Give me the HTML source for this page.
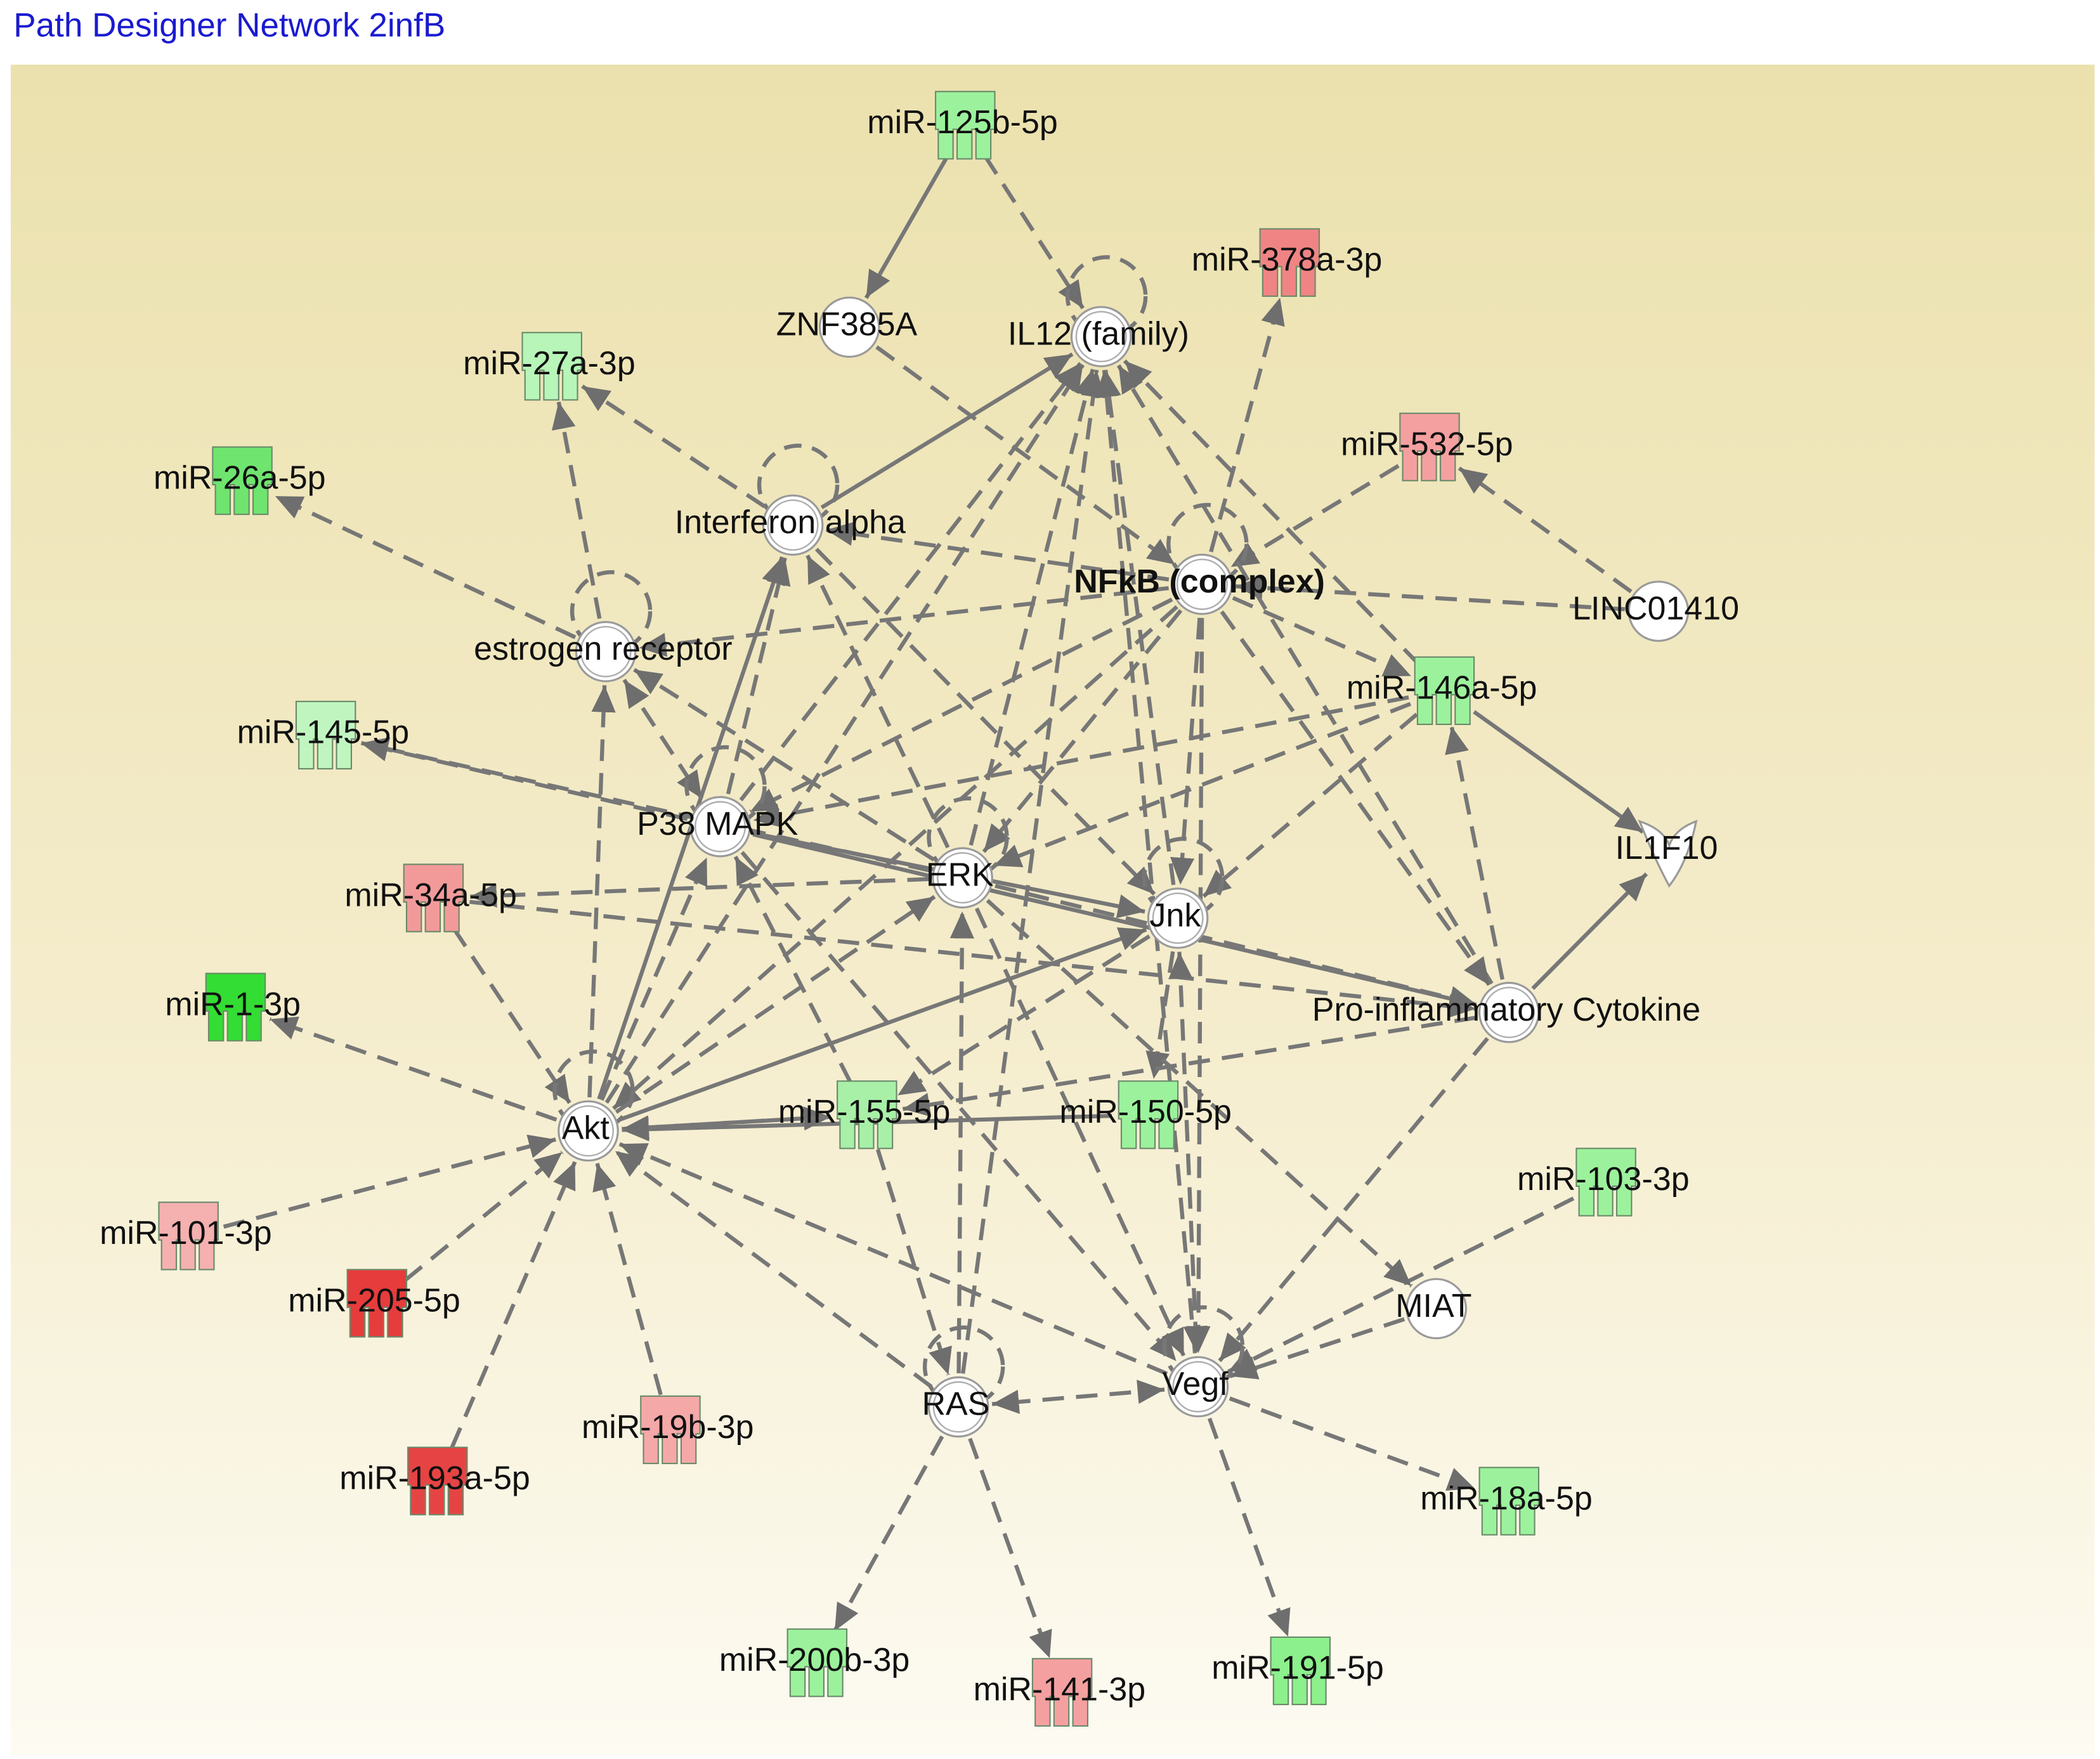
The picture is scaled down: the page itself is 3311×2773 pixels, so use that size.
<!DOCTYPE html>
<html><head><meta charset="utf-8">
<style>
html,body{margin:0;padding:0;background:#fff;}
svg{display:block;}
text{font-family:"Liberation Sans",Arial,sans-serif;}
</style></head>
<body>
<svg id="s" xmlns="http://www.w3.org/2000/svg" width="3311" height="2773" viewBox="0 0 1560 1306.5">
<defs>
<linearGradient id="bg" x1="0" y1="0" x2="0" y2="1">
<stop offset="0" stop-color="#ebe1ae"/>
<stop offset="0.55" stop-color="#f4eccb"/>
<stop offset="1" stop-color="#fdfbf2"/>
</linearGradient>
<marker id="ah" markerUnits="userSpaceOnUse" markerWidth="24" markerHeight="24" refX="20" refY="9" orient="auto">
<path d="M0,0 L20,9 L0,18 Z" fill="#6e6e6e"/>
</marker>
<marker id="as" markerUnits="userSpaceOnUse" markerWidth="24" markerHeight="24" refX="0" refY="9" orient="auto">
<path d="M20,0 L0,9 L20,18 Z" fill="#6e6e6e"/>
</marker>
</defs>
<rect x="0" y="0" width="1560" height="1306.5" fill="#fff"/>
<text x="10" y="27" font-size="25" fill="#1a1ad0">Path Designer Network 2infB</text>
<rect x="8" y="48" width="1548" height="1256" fill="url(#bg)"/>
<g id="edges"></g>
<g id="nodes"></g>
</svg>
<script>
var N={
m125:[717,93,'m','#9cf29c','miR-125b-5p'],
znf:[631,243,'c',0,'ZNF385A'],
il12:[818,250,'d',0,'IL12 (family)'],
m378:[958,195,'m','#f08484','miR-378a-3p'],
m27:[410,272,'m','#b8f5b8','miR-27a-3p'],
m532:[1062,332,'m','#f5a0a0','miR-532-5p'],
m26:[180,357,'m','#6fe46f','miR-26a-5p'],
ifn:[589,390,'d',0,'Interferon alpha'],
nfkb:[893,434,'d',0,'NFkB (complex)'],
linc:[1232,454,'c',0,'LINC01410'],
er:[450,484,'d',0,'estrogen receptor'],
m146:[1073,513,'m','#9cf29c','miR-146a-5p'],
m145:[242,546,'m','#c0f5c0','miR-145-5p'],
p38:[535,614,'d',0,'P38 MAPK'],
erk:[715,652,'d',0,'ERK'],
jnk:[875,682,'d',0,'Jnk'],
il1f:[1240,632,'v',0,'IL1F10'],
m34:[322,667,'m','#f29a9a','miR-34a-5p'],
m1:[175,748,'m','#33dd33','miR-1-3p'],
pro:[1121,752,'d',0,'Pro-inflammatory Cytokine'],
akt:[437,840,'d',0,'Akt'],
m155:[644,828,'m','#a8f0a8','miR-155-5p'],
m150:[853,828,'m','#9cf29c','miR-150-5p'],
m103:[1193,878,'m','#9cf29c','miR-103-3p'],
m101:[140,918,'m','#f5b0b0','miR-101-3p'],
m205:[280,968,'m','#e63c3c','miR-205-5p'],
miat:[1067,972,'c',0,'MIAT'],
ras:[712,1045,'d',0,'RAS'],
vegf:[890,1030,'d',0,'Vegf'],
m19b:[498,1062,'m','#f5a8a8','miR-19b-3p'],
m193:[325,1100,'m','#e64444','miR-193a-5p'],
m18:[1121,1115,'m','#9cf29c','miR-18a-5p'],
m200:[607,1235,'m','#9cf29c','miR-200b-3p'],
m141:[789,1257,'m','#f5a0a0','miR-141-3p'],
m191:[966,1241,'m','#8cf08c','miR-191-5p']
};
var E=[
['m125','znf',1],['m125','il12'],
['nfkb','m378'],['m532','nfkb'],['linc','m532'],['linc','nfkb'],
['ifn','m27'],['er','m27'],['er','m26'],['nfkb','er'],['nfkb','ifn'],['znf','nfkb'],
['ifn','il12',1],
['p38','m145'],['erk','m145'],['er','p38',0,1],['erk','er'],
['p38','il12'],['erk','il12'],['akt','il12'],['jnk','il12'],['vegf','il12'],['pro','il12'],['m146','il12'],['ras','il12'],
['nfkb','m146'],['nfkb','pro'],['nfkb','p38'],['nfkb','erk'],['nfkb','jnk'],['nfkb','akt'],['nfkb','vegf'],
['m34','akt'],['m34','pro'],['erk','m34'],
['akt','m1'],['m101','akt'],['m205','akt'],['m193','akt'],['m19b','akt'],
['vegf','akt'],['ras','akt'],['akt','erk'],['akt','p38'],['akt','er'],['akt','jnk',1],['akt','ifn',1],
['m150','akt',1],['m155','p38'],['p38','vegf'],['erk','vegf'],['m155','ras'],['jnk','m155'],['jnk','m150'],['pro','m155'],
['p38','jnk',1],['p38','pro',1],['erk','pro'],['ifn','jnk'],['p38','ifn'],['erk','ifn'],
['vegf','ras',0,1],['ras','m200'],['ras','m141'],['vegf','m191'],['vegf','m18'],['m103','vegf'],['miat','vegf'],['pro','vegf'],
['jnk','vegf',0,1],['erk','miat'],['ras','erk'],
['m146','p38'],['m146','erk'],['m146','jnk'],['pro','m146'],['m146','il1f',1],['pro','il1f',1],
['akt','m155'],['m155','akt']
];
var NS='http://www.w3.org/2000/svg';
function el(t,a,p){var e=document.createElementNS(NS,t);for(var k in a)e.setAttribute(k,a[k]);p.appendChild(e);return e;}
var eg=document.getElementById('edges'),ng=document.getElementById('nodes');
function R(n){return n[2]=='m'?27:(n[2]=='v'?24:25);}
E.forEach(function(e){
 var a=N[e[0]],b=N[e[1]];var dx=b[0]-a[0],dy=b[1]-a[1],L=Math.hypot(dx,dy),ux=dx/L,uy=dy/L;
 var ra=R(a),rb=R(b);
 var at={x1:a[0]+ux*ra,y1:a[1]+uy*ra,x2:b[0]-ux*rb,y2:b[1]-uy*rb,stroke:'#777','stroke-width':3,'marker-end':'url(#ah)'};
 if(!e[2])at['stroke-dasharray']='16 9';
 if(e[3])at['marker-start']='url(#as)';
 el('line',at,eg);
});
['il12','nfkb','ifn','er','p38','erk','jnk','akt','vegf','ras'].forEach(function(k){
 var n=N[k];
 el('circle',{cx:n[0]+4,cy:n[1]-30,r:29,fill:'none',stroke:'#777','stroke-width':3,'stroke-dasharray':'13 8'},eg);
});
for(var k in N){var n=N[k],x=n[0],y=n[1];
 if(n[2]=='m'){
  var g=el('g',{},ng);
  el('path',{d:'M'+(x-22)+','+(y-25)+' h44 v28 h-3 v22 h-11 v-22 h-3 v22 h-11 v-22 h-3 v22 h-11 v-22 h-2 z',fill:n[3],stroke:'#6a8a6a','stroke-width':1},g);
 } else if(n[2]=='v'){
  el('path',{d:'M'+(x-22)+','+(y-22)+' Q'+(x-4)+','+(y-16)+' '+x+','+(y-4)+' Q'+(x+4)+','+(y-16)+' '+(x+20)+','+(y-22)+' Q'+(x+14)+','+(y+8)+' '+(x)+','+(y+26)+' Q'+(x-10)+','+(y+8)+' '+(x-22)+','+(y-22)+'z',fill:'#fff',stroke:'#999','stroke-width':1.5},ng);
 } else {
  el('circle',{cx:x,cy:y,r:22,fill:'#fff',stroke:'#9a9a9a','stroke-width':1.5},ng);
  if(n[2]=='d')el('circle',{cx:x,cy:y,r:18.5,fill:'none',stroke:'#b0b0b0','stroke-width':1.2},ng);
 }
}
for(var k in N){var n=N[k];
 var t=el('text',{x:n[0]-2,y:n[1]+6,'font-size':24.5,'text-anchor':'middle',fill:'#111'},ng);
 if(k=='nfkb')t.setAttribute('font-weight','bold');
 t.textContent=n[4];
}
</script>
</body></html>
